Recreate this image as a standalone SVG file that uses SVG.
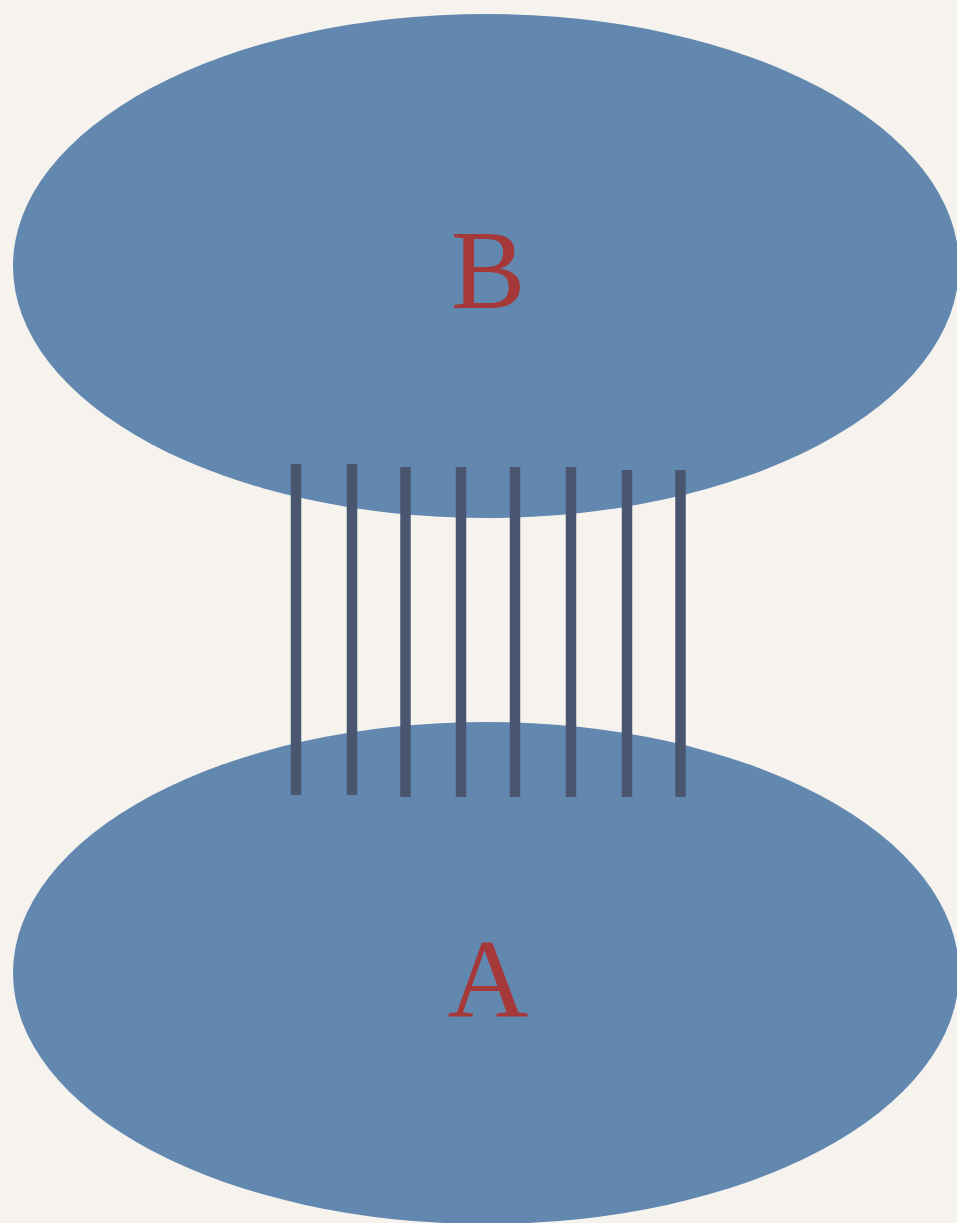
<svg xmlns="http://www.w3.org/2000/svg" width="957" height="1223" viewBox="0 0 957 1223">
<style>
.blob{fill:#6388b0}
.lbl{font-family:"Liberation Serif","DejaVu Serif",serif;font-size:112px;fill:#a5393a;text-anchor:middle}
.bar{stroke:#4a566f;stroke-width:10.5;fill:none}
</style>
<rect width="957" height="1223" fill="#f6f3ee"/>
<g id="nodeB">
<ellipse class="blob" cx="486" cy="266" rx="473" ry="252"/>
<text class="lbl" x="488" y="308">B</text>
</g>
<g id="nodeA">
<ellipse class="blob" cx="486" cy="973" rx="473" ry="251"/>
<text class="lbl" x="488" y="1017">A</text>
</g>
<g id="connectors">
<line class="bar" x1="296" y1="464" x2="296" y2="795"/>
<line class="bar" x1="352" y1="464" x2="352" y2="795"/>
<line class="bar" x1="405.5" y1="467" x2="405.5" y2="797"/>
<line class="bar" x1="461" y1="467" x2="461" y2="797"/>
<line class="bar" x1="515" y1="467" x2="515" y2="797"/>
<line class="bar" x1="571" y1="467" x2="571" y2="797"/>
<line class="bar" x1="627" y1="470" x2="627" y2="797"/>
<line class="bar" x1="680.5" y1="470" x2="680.5" y2="797"/>
</g>
</svg>
